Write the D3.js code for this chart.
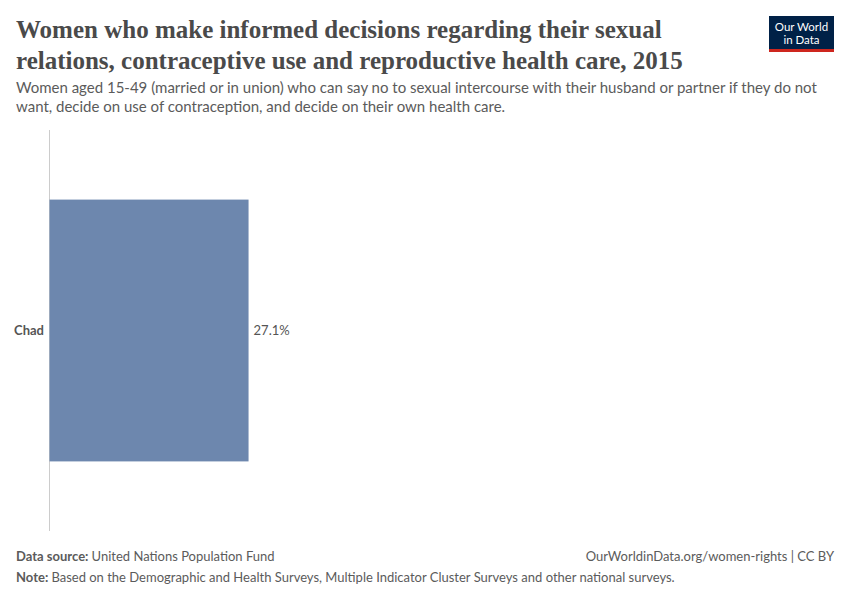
<!DOCTYPE html>
<html lang="en">
<head>
    <meta charset="UTF-8">
    <title>Women who make informed decisions</title>
    <script src="https://d3js.org/d3.v7.min.js"></script>
    <style>
        body { margin: 0; background: #fff; }
        svg { font-family: Lato, "Noto Sans", sans-serif; }
        .title { font-family: "Liberation Serif", "DejaVu Serif", serif; font-size: 25px; fill: #4a4a4a; font-weight: bold; }
        .subtitle { font-size: 15px; fill: #5b5b5b; }
        .footer { font-size: 13px; fill: #5b5b5b; }
    </style>
</head>
<body>
<div id="chart"></div>
<script>
    // data
    const countries = ["Chad"];
    const values = [27.1];

    const width = 850, height = 600;
    const svg = d3.select("#chart").append("svg")
        .attr("width", width)
        .attr("height", height);

    // title + subtitle
    const titleLines = [
        "Women who make informed decisions regarding their sexual",
        "relations, contraceptive use and reproductive health care, 2015"
    ];
    svg.append("text").attr("class", "title")
        .selectAll("tspan").data(titleLines).enter().append("tspan")
        .attr("x", 16).attr("y", (d, i) => 38 + i * 31)
        .text(d => d);

    const subLines = [
        "Women aged 15-49 (married or in union) who can say no to sexual intercourse with their husband or partner if they do not",
        "want, decide on use of contraception, and decide on their own health care."
    ];
    svg.append("text").attr("class", "subtitle")
        .selectAll("tspan").data(subLines).enter().append("tspan")
        .attr("x", 16).attr("y", (d, i) => 93 + i * 19)
        .text(d => d);

    // logo
    const logo = svg.append("g").attr("transform", "translate(769,16)");
    logo.append("rect").attr("width", 65).attr("height", 35).attr("fill", "#002147");
    logo.append("rect").attr("y", 33).attr("width", 65).attr("height", 3).attr("fill", "#ce261e");
    logo.append("text").attr("x", 32.5).attr("y", 15).attr("text-anchor", "middle")
        .attr("fill", "#fff").attr("font-size", 11.5).text("Our World");
    logo.append("text").attr("x", 32.5).attr("y", 28).attr("text-anchor", "middle")
        .attr("fill", "#fff").attr("font-size", 11.5).text("in Data");

    // plot
    const x = d3.scaleLinear().domain([0, 100]).range([49.5, 784]);
    const y = d3.scaleBand().domain(countries).range([130, 531]).padding(0.21);

    svg.append("line")
        .attr("x1", 49.5).attr("x2", 49.5)
        .attr("y1", 130).attr("y2", 531)
        .attr("stroke", "#ccc").attr("stroke-width", 1);

    svg.selectAll("rect.bar").data(countries).enter().append("rect")
        .attr("class", "bar")
        .attr("x", x(0))
        .attr("y", d => y(d))
        .attr("width", (d, i) => x(values[i]) - x(0))
        .attr("height", y.bandwidth())
        .attr("fill", "#6d87ae");

    svg.selectAll("text.cat").data(countries).enter().append("text")
        .attr("class", "cat")
        .attr("x", 44)
        .attr("y", d => y(d) + y.bandwidth() / 2)
        .attr("dy", "0.35em")
        .attr("text-anchor", "end")
        .attr("font-size", 13).attr("font-weight", "bold").attr("fill", "#555")
        .text(d => d);

    svg.selectAll("text.val").data(countries).enter().append("text")
        .attr("class", "val")
        .attr("x", (d, i) => x(values[i]) + 5)
        .attr("y", d => y(d) + y.bandwidth() / 2)
        .attr("dy", "0.35em")
        .attr("font-size", 13).attr("fill", "#555")
        .text((d, i) => values[i].toFixed(1) + "%");

    // footer
    const src = svg.append("text").attr("class", "footer").attr("x", 16).attr("y", 561);
    src.append("tspan").attr("font-weight", "bold").text("Data source: ");
    src.append("tspan").text("United Nations Population Fund");

    svg.append("text").attr("class", "footer").attr("x", 834).attr("y", 561)
        .attr("text-anchor", "end").text("OurWorldinData.org/women-rights | CC BY");

    const note = svg.append("text").attr("class", "footer").attr("x", 16).attr("y", 582);
    note.append("tspan").attr("font-weight", "bold").text("Note: ");
    note.append("tspan").text("Based on the Demographic and Health Surveys, Multiple Indicator Cluster Surveys and other national surveys.");
</script>
</body>
</html>
